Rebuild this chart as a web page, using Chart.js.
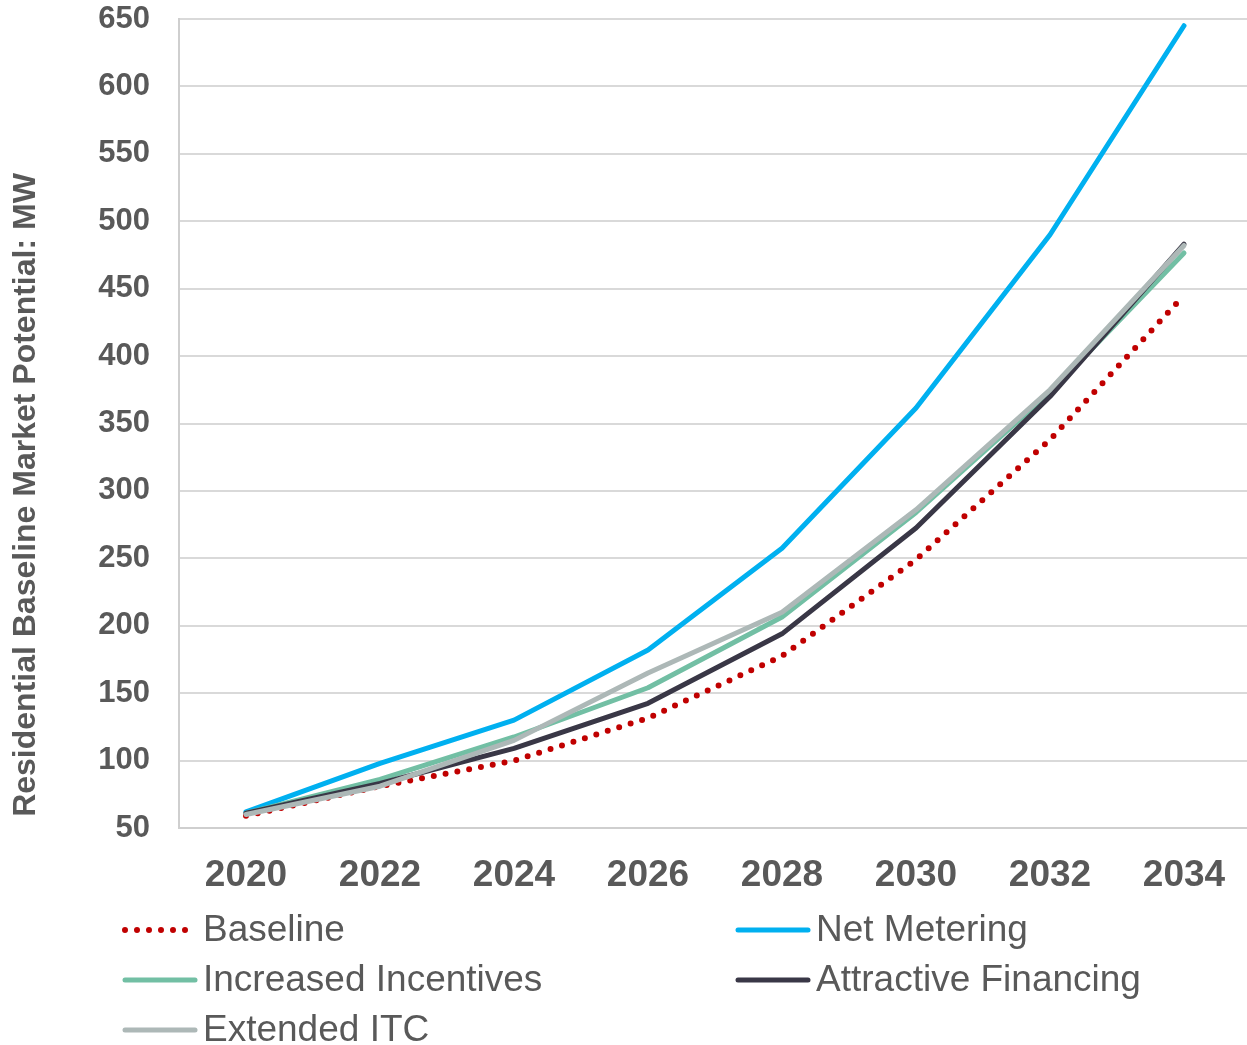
<!DOCTYPE html>
<html>
<head>
<meta charset="utf-8">
<script src="https://cdn.jsdelivr.net/npm/chart.js@4"></script>
<style>
  html, body { margin: 0; padding: 0; background: #ffffff; overflow: hidden; }
  #wrap { width: 1247px; height: 1045px; overflow: hidden; }
</style>
</head>
<body>
<div id="wrap"><canvas id="chart" width="1251" height="1045"></canvas></div>
<script>
// Residential baseline market potential (MW) by scenario
const years = ['2020', '2022', '2024', '2026', '2028', '2030', '2032', '2034'];
const baseline = [59, 81, 100, 131.5, 177.5, 249, 338, 445];
const netMetering = [62, 98, 130, 182, 257.5, 361.5, 490, 645];
const increasedIncentives = [61, 86, 117.5, 154, 206.5, 284, 373, 476.5];
const attractiveFinancing = [61, 83, 109, 142.5, 194, 272.5, 370, 483];
const extendedITC = [60, 81, 115, 165, 210, 286, 375, 482];
const yTicks = [50, 100, 150, 200, 250, 300, 350, 400, 450, 500, 550, 600, 650];
const yTitle = 'Residential Baseline Market Potential: MW';

const FONT = '"Liberation Sans", Arial, sans-serif';
const TEXT = '#595959';

// Two-column legend drawn beneath the plot, plus the rotated value-axis title
const legendLayout = [
  { ds: 0, x: 125, y: 930 },
  { ds: 1, x: 738, y: 930 },
  { ds: 2, x: 125, y: 980 },
  { ds: 3, x: 738, y: 980 },
  { ds: 4, x: 125, y: 1030 }
];
const legendPlugin = {
  id: 'gridLegend',
  afterDraw(chart) {
    const ctx = chart.ctx;
    ctx.save();
    legendLayout.forEach(item => {
      const ds = chart.data.datasets[item.ds];
      ctx.beginPath();
      ctx.strokeStyle = ds.borderColor;
      ctx.lineWidth = ds.borderWidth;
      ctx.lineCap = 'round';
      ctx.setLineDash(ds.borderDash || []);
      ctx.moveTo(item.x, item.y);
      ctx.lineTo(item.x + 70, item.y);
      ctx.stroke();
      ctx.setLineDash([]);
      ctx.fillStyle = TEXT;
      ctx.font = '37px ' + FONT;
      ctx.textBaseline = 'middle';
      ctx.textAlign = 'left';
      ctx.fillText(ds.label, item.x + 78, item.y + 1);
    });
    // value-axis title
    ctx.translate(26, 495);
    ctx.rotate(-Math.PI / 2);
    ctx.font = 'bold 32px ' + FONT;
    ctx.textAlign = 'center';
    ctx.textBaseline = 'middle';
    ctx.fillStyle = TEXT;
    ctx.fillText(yTitle, 0, 0);
    ctx.restore();
  }
};

const common = { fill: false, pointRadius: 0, pointHoverRadius: 0, borderWidth: 5,
  borderCapStyle: 'round', borderJoinStyle: 'round', tension: 0 };

new Chart(document.getElementById('chart'), {
  type: 'line',
  data: {
    labels: years,
    datasets: [
      Object.assign({ label: 'Baseline', data: baseline, borderColor: '#c00000',
        borderDash: [0, 12], order: 5 }, common, { borderWidth: 6 }),
      Object.assign({ label: 'Net Metering', data: netMetering, borderColor: '#00b0f0', order: 4 }, common),
      Object.assign({ label: 'Increased Incentives', data: increasedIncentives, borderColor: '#72bfa4', order: 3 }, common),
      Object.assign({ label: 'Attractive Financing', data: attractiveFinancing, borderColor: '#393746', order: 2 }, common),
      Object.assign({ label: 'Extended ITC', data: extendedITC, borderColor: '#adb8b7', order: 1 }, common)
    ]
  },
  options: {
    responsive: false,
    animation: false,
    events: [],
    layout: { padding: { top: 19, right: 0, bottom: 0, left: 0 } },
    plugins: { legend: { display: false }, tooltip: { enabled: false } },
    scales: {
      x: {
        offset: true,
        grid: { display: false, drawTicks: false, offset: true },
        border: { display: true, color: '#cfcfcf', width: 2 },
        ticks: { color: TEXT, font: { family: FONT, size: 37, weight: 'bold' }, padding: 26, maxRotation: 0 },
        afterFit(scale) { scale.height = 217; scale.paddingLeft = 0; scale.paddingRight = 0; }
      },
      y: {
        min: 50, max: 650,
        afterBuildTicks(scale) { scale.ticks = yTicks.map(v => ({ value: v })); },
        grid: { color: '#d9d9d9', lineWidth: 2, drawTicks: false },
        border: { display: true, color: '#cfcfcf', width: 2 },
        ticks: { color: TEXT, font: { family: FONT, size: 31, weight: 'bold' }, padding: 29 },
        afterFit(scale) { scale.width = 179; scale.paddingTop = 0; scale.paddingBottom = 0; }
      }
    }
  },
  plugins: [legendPlugin]
});
</script>
</body>
</html>
